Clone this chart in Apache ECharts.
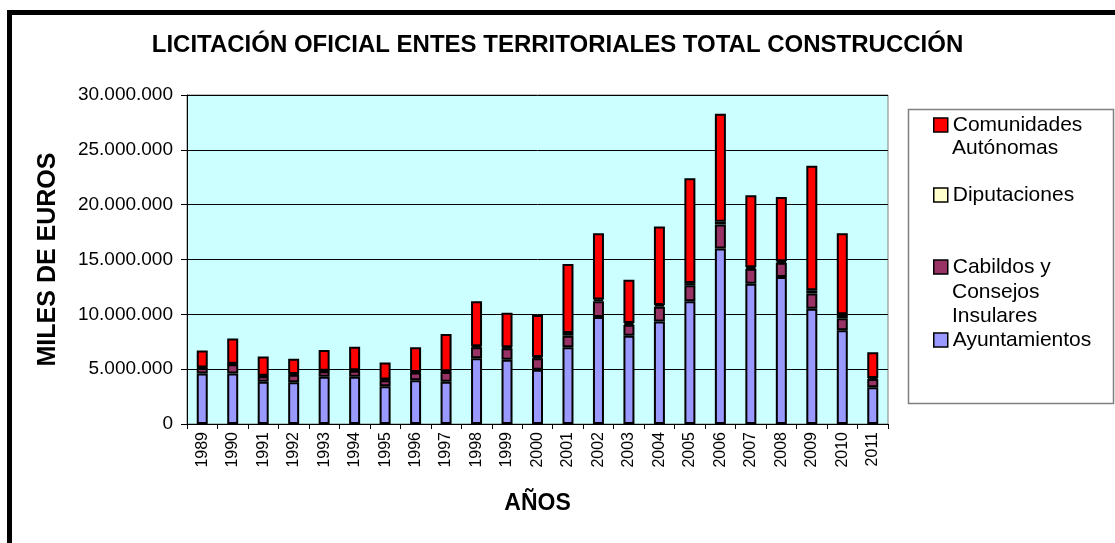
<!DOCTYPE html>
<html>
<head>
<meta charset="utf-8">
<script src="https://cdn.jsdelivr.net/npm/echarts@6/dist/echarts.min.js"></script>
<style>
  html, body { margin: 0; padding: 0; background: #fff; }
  #chart { width: 1115px; height: 543px; }
</style>
</head>
<body>
<div id="chart"></div>
<script>
const years = ['1989', '1990', '1991', '1992', '1993', '1994', '1995', '1996', '1997', '1998', '1999', '2000',
  '2001', '2002', '2003', '2004', '2005', '2006', '2007', '2008', '2009', '2010', '2011']

// miles de euros
const ayuntamientos = [4600000, 4600000, 3850000, 3800000, 4300000, 4300000, 3450000, 4000000, 3850000, 6000000, 5850000, 4950000,
  7000000, 9750000, 8050000, 9350000, 11200000, 16000000, 12800000, 13400000, 10500000, 8550000, 3350000]
const cabildos = [500000, 850000, 500000, 700000, 500000, 550000, 550000, 700000, 900000, 1000000, 1050000, 1050000,
  1050000, 1450000, 1000000, 1350000, 1450000, 2200000, 1350000, 1300000, 1400000, 1100000, 750000]
const diputaciones = [50000, 50000, 50000, 50000, 50000, 50000, 50000, 50000, 50000, 100000, 100000, 100000,
  250000, 150000, 150000, 150000, 200000, 250000, 150000, 150000, 300000, 350000, 100000]
const comunidades = [1550000, 2300000, 1750000, 1400000, 1900000, 2150000, 1550000, 2250000, 3400000, 4100000, 3150000, 3850000,
  6300000, 6050000, 3950000, 7150000, 9550000, 9850000, 6550000, 5850000, 11350000, 7400000, 2350000]

const yTicks = [0, 5000000, 10000000, 15000000, 20000000, 25000000, 30000000]

const colors = {
  ayunt: '#9999ff',
  cab: '#993366',
  dip: '#ffffcc',
  ccaa: '#ff0000'
}

const font = 'Liberation Sans, Arial, sans-serif'
const fmt = v => String(v).replace(/\B(?=(\d{3})+(?!\d))/g, '.')
const barStyle = c => ({ color: c, borderColor: '#000', borderWidth: 2 })

const chart = echarts.init(document.getElementById('chart'))

// one legend per item so the spacing follows the original box;
// only the first line of a long name goes in the legend, the rest is graphic text
const legendItem = (name, iconTop) => ({
  data: [name],
  left: 933,
  top: iconTop - 5,
  padding: 0,
  itemWidth: 14,
  itemHeight: 14,
  selectedMode: false,
  icon: 'rect',
  itemStyle: { borderColor: '#000', borderWidth: 1.5 },
  formatter: n => n.split(/ (?=Autónomas|Consejos)/)[0],
  textStyle: { fontFamily: font, fontSize: 21, color: '#000', lineHeight: 24 }
})

const extraLine = (text, yMid) => ({
  type: 'text', left: 952, top: yMid - 12,
  style: { text: text, fill: '#000', font: '21px ' + font, lineHeight: 24 }
})

chart.setOption({
  animation: false,
  backgroundColor: '#fff',
  title: {
    text: 'LICITACIÓN OFICIAL ENTES TERRITORIALES TOTAL CONSTRUCCIÓN',
    left: 'center',
    top: 28,
    textStyle: { fontFamily: font, fontSize: 24, fontWeight: 'bold', color: '#000' }
  },
  graphic: [
    { type: 'rect', z: -10, shape: { x: 9.5, y: 12.5, width: 1200, height: 700 }, style: { fill: 'none', stroke: '#000', lineWidth: 5 } },
    { type: 'rect', z: -10, shape: { x: 908.5, y: 109.5, width: 205, height: 294 }, style: { fill: '#fff', stroke: '#808080', lineWidth: 1.5 } },
    extraLine('Autónomas', 148),
    extraLine('Consejos', 292),
    extraLine('Insulares', 316)
  ],
  legend: [
    legendItem('Comunidades Autónomas', 118),
    legendItem('Diputaciones', 188),
    legendItem('Cabildos y Consejos Insulares', 260),
    legendItem('Ayuntamientos', 333)
  ],
  grid: {
    left: 187, right: 227, top: 95, bottom: 119,
    show: true, backgroundColor: '#ccffff', borderColor: '#808080', borderWidth: 1
  },
  xAxis: {
    type: 'category',
    data: years,
    name: 'AÑOS',
    nameLocation: 'middle',
    nameGap: 68,
    nameTextStyle: { fontFamily: font, fontSize: 23, fontWeight: 'bold', color: '#000' },
    axisLine: { lineStyle: { color: '#000', width: 1 } },
    axisTick: { show: true, length: 5, alignWithLabel: false, interval: 0, lineStyle: { color: '#000' } },
    axisLabel: { interval: 0, rotate: 90, margin: 8, fontFamily: font, fontSize: 16, color: '#000' }
  },
  yAxis: {
    type: 'value',
    min: yTicks[0],
    max: yTicks[yTicks.length - 1],
    interval: yTicks[1] - yTicks[0],
    name: 'MILES DE EUROS',
    nameLocation: 'middle',
    nameRotate: 90,
    nameGap: 126,
    nameTextStyle: { fontFamily: font, fontSize: 25, fontWeight: 'bold', color: '#000' },
    axisLine: { show: true, lineStyle: { color: '#000', width: 1 } },
    axisTick: { show: true, length: 6, lineStyle: { color: '#000' } },
    axisLabel: { margin: 14, formatter: fmt, fontFamily: font, fontSize: 19, color: '#000' },
    splitLine: { show: true, lineStyle: { color: '#000', width: 1 } }
  },
  series: [
    { name: 'Ayuntamientos', type: 'bar', stack: 'total', barWidth: 11, data: ayuntamientos, itemStyle: barStyle(colors.ayunt) },
    { name: 'Cabildos y Consejos Insulares', type: 'bar', stack: 'total', barWidth: 11, data: cabildos, itemStyle: barStyle(colors.cab) },
    { name: 'Diputaciones', type: 'bar', stack: 'total', barWidth: 11, data: diputaciones, itemStyle: barStyle(colors.dip) },
    { name: 'Comunidades Autónomas', type: 'bar', stack: 'total', barWidth: 11, data: comunidades, itemStyle: barStyle(colors.ccaa) }
  ]
})
</script>
</body>
</html>
